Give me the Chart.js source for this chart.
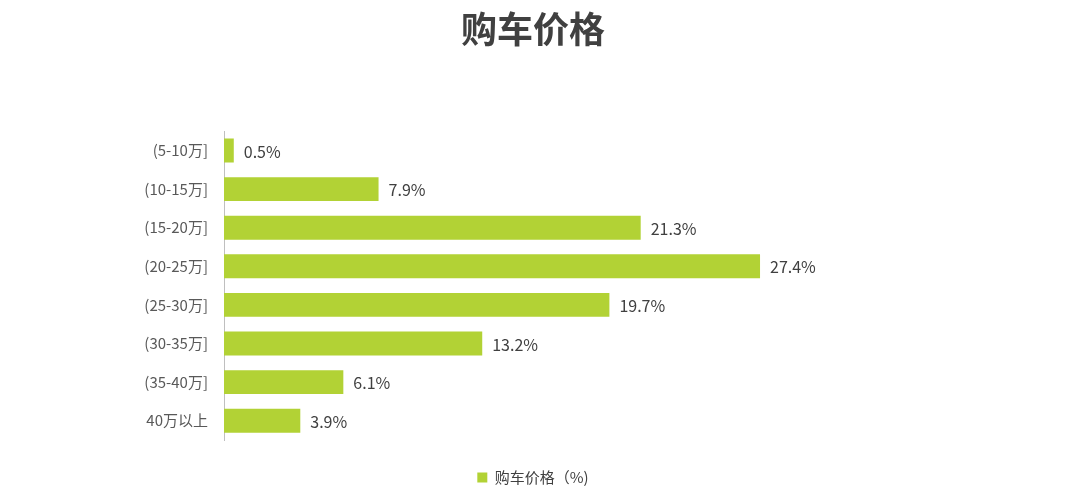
<!DOCTYPE html>
<html><head><meta charset="utf-8">
<script src="https://cdn.jsdelivr.net/npm/chart.js@4"></script>
<style>html,body{margin:0;padding:0;background:#fff}#w{width:1066px;height:501px}</style>
</head><body><div id="w"><canvas id="c"></canvas></div>
<script>
const categories = ["(5-10万]","(10-15万]","(15-20万]","(20-25万]","(25-30万]","(30-35万]","(35-40万]","40万以上"];
const values = [0.5,7.9,21.3,27.4,19.7,13.2,6.1,3.9];
const seriesName = "购车价格（%)";
const FONT = "'Noto Sans CJK SC', 'Noto Sans', sans-serif";
const labelPlugin = {
  id:'lbl',
  afterDatasetsDraw(chart){
    const ctx = chart.ctx;
    const meta = chart.getDatasetMeta(0);
    ctx.save();
    ctx.font = "16px " + FONT;
    ctx.fillStyle = "#404040";
    ctx.textBaseline = "middle";
    meta.data.forEach((b,i)=>{
      ctx.fillText(values[i].toFixed(1)+"%", b.x+10, b.y+1);
    });
    ctx.restore();
  }
};
new Chart(document.getElementById('c'),{
  type:'bar',
  data:{labels:categories,datasets:[{label:seriesName,data:values,backgroundColor:'#B2D235',barPercentage:0.62,categoryPercentage:1}]},
  options:{
    indexAxis:'y',responsive:true,maintainAspectRatio:false,animation:false,
    layout:{padding:{left:0,right:0,top:2,bottom:6}},
    plugins:{
      title:{display:true,text:'购车价格',color:'#404040',font:{family:FONT,size:36,weight:'bold'},padding:{top:6,bottom:80}},
      legend:{position:'bottom',labels:{color:'#404040',font:{family:FONT,size:15},boxWidth:10,boxHeight:10,padding:30}},
      tooltip:{enabled:false}
    },
    scales:{
      x:{display:false,min:0,max:43.04},
      y:{afterFit(s){s.width=224;},grid:{display:false,drawTicks:false},border:{display:true,color:'#BFBFBF',width:1},
         ticks:{color:'#595959',font:{family:FONT,size:15},padding:16}}
    }
  },
  plugins:[labelPlugin]
});
</script></body></html>
